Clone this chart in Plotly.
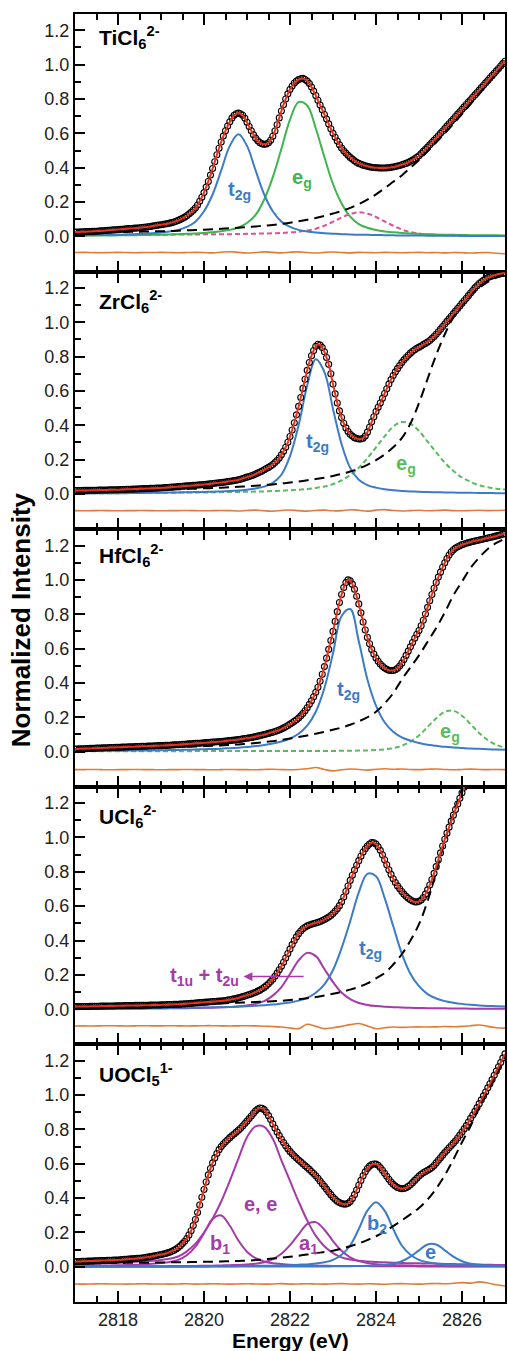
import plotly.graph_objects as go
from plotly.subplots import make_subplots

# ---------------- x grids (eV) ----------------
energy_fine = [round(2817.0 + 0.05 * i, 2) for i in range(201)]  # measured spectrum points
energy_grid = [round(2817.0 + 0.2 * i, 1) for i in range(51)]    # fit components / steps / residuals

# ---------------- TiCl6 2- ----------------
ti_spectrum = [
    0.025,0.0255,0.026,0.0265,0.027,0.0275,0.028,0.0285,0.029,0.0295,0.030,0.031,0.032,0.033,0.034,0.035,0.036,0.037,0.038,0.039,
    0.040,0.041,0.042,0.043,0.044,0.045,0.046,0.047,0.048,0.049,0.050,0.0515,0.053,0.0545,0.056,0.058,0.060,0.062,0.064,0.066,
    0.068,0.070,0.072,0.0745,0.077,0.080,0.084,0.088,0.093,0.099,0.105,0.112,0.120,0.130,0.140,0.152,0.165,0.183,0.205,0.228,
    0.255,0.287,0.320,0.357,0.395,0.435,0.475,0.513,0.550,0.584,0.615,0.643,0.668,0.689,0.705,0.714,0.718,0.714,0.705,0.688,
    0.665,0.640,0.615,0.592,0.572,0.557,0.546,0.539,0.536,0.538,0.545,0.560,0.583,0.614,0.650,0.690,0.730,0.767,0.800,0.830,
    0.855,0.876,0.893,0.905,0.913,0.918,0.920,0.914,0.905,0.890,0.870,0.846,0.820,0.793,0.765,0.738,0.710,0.683,0.655,0.627,
    0.600,0.577,0.555,0.534,0.515,0.499,0.485,0.472,0.460,0.450,0.440,0.432,0.425,0.420,0.415,0.411,0.408,0.405,0.403,0.401,
    0.400,0.399,0.398,0.398,0.398,0.399,0.400,0.402,0.404,0.407,0.410,0.413,0.417,0.421,0.425,0.431,0.437,0.444,0.452,0.461,
    0.470,0.482,0.495,0.507,0.520,0.533,0.547,0.560,0.573,0.586,0.600,0.614,0.628,0.642,0.656,0.670,0.684,0.698,0.712,0.726,
    0.740,0.754,0.768,0.782,0.796,0.810,0.824,0.838,0.852,0.866,0.880,0.894,0.908,0.922,0.936,0.950,0.964,0.978,0.992,1.006,
    1.020]
ti_t2g = [0.006,0.006,0.007,0.008,0.009,0.010,0.011,0.013,0.016,0.019,
          0.023,0.029,0.038,0.055,0.086,0.146,0.244,0.384,0.527,0.595,
          0.527,0.384,0.244,0.146,0.086,0.055,0.038,0.029,0.023,0.019,
          0.016,0.013,0.011,0.010,0.009,0.008,0.007,0.006,0.0055,0.005,
          0.005,0.004,0.004,0.004,0.0035,0.003,0.003,0.003,0.003,0.0025,0.0025]
ti_eg = [0.004,0.004,0.005,0.005,0.005,0.006,0.007,0.007,0.008,0.009,
         0.010,0.011,0.013,0.015,0.017,0.020,0.024,0.030,0.038,0.052,
         0.078,0.125,0.215,0.345,0.510,0.680,0.782,0.762,0.628,0.462,
         0.305,0.192,0.115,0.072,0.050,0.037,0.029,0.024,0.020,0.017,
         0.015,0.013,0.011,0.010,0.009,0.008,0.007,0.007,0.006,0.006,0.005]
ti_extra = [0.008,0.008,0.008,0.009,0.009,0.009,0.009,0.010,0.010,0.010,
            0.010,0.010,0.011,0.011,0.011,0.012,0.012,0.013,0.013,0.014,
            0.015,0.016,0.017,0.018,0.020,0.023,0.027,0.034,0.045,0.062,
            0.085,0.110,0.130,0.140,0.133,0.113,0.087,0.062,0.040,0.025,
            0.016,0.011,0.008,0.006,0.005,0.004,0.003,0.003,0.003,0.002,0.002]
ti_step = [0.020,0.021,0.022,0.023,0.024,0.025,0.026,0.027,0.028,0.029,
           0.030,0.031,0.033,0.035,0.037,0.039,0.041,0.044,0.047,0.050,
           0.054,0.058,0.062,0.067,0.073,0.080,0.088,0.097,0.107,0.119,
           0.133,0.148,0.166,0.188,0.214,0.245,0.280,0.318,0.355,0.400,
           0.445,0.495,0.548,0.600,0.655,0.712,0.770,0.830,0.890,0.950,1.010]
ti_resid = [-0.094,-0.093,-0.094,-0.095,-0.094,-0.093,-0.094,-0.095,-0.094,-0.094,
            -0.093,-0.094,-0.095,-0.094,-0.093,-0.094,-0.096,-0.092,-0.089,-0.093,
            -0.097,-0.094,-0.090,-0.093,-0.096,-0.092,-0.090,-0.094,-0.097,-0.093,
            -0.091,-0.094,-0.096,-0.093,-0.094,-0.095,-0.093,-0.094,-0.095,-0.094,
            -0.093,-0.095,-0.094,-0.096,-0.094,-0.095,-0.097,-0.095,-0.094,-0.098,-0.101]

# ---------------- ZrCl6 2- ----------------
zr_spectrum = [
    0.020,0.020,0.020,0.0205,0.021,0.021,0.021,0.0215,0.022,0.022,0.022,0.0225,0.023,0.023,0.023,0.0235,0.024,0.024,0.024,0.0245,
    0.025,0.0255,0.026,0.0265,0.027,0.0275,0.028,0.0285,0.029,0.0295,0.030,0.0305,0.031,0.0315,0.032,0.0325,0.033,0.0335,0.034,0.0345,
    0.035,0.036,0.037,0.038,0.039,0.040,0.041,0.042,0.043,0.044,0.045,0.046,0.047,0.048,0.049,0.050,0.051,0.052,0.053,0.054,
    0.055,0.0565,0.058,0.0595,0.061,0.0625,0.064,0.0655,0.067,0.0685,0.070,0.072,0.074,0.076,0.078,0.080,0.083,0.086,0.090,0.094,
    0.098,0.102,0.106,0.111,0.116,0.122,0.128,0.134,0.141,0.148,0.155,0.163,0.172,0.183,0.195,0.210,0.228,0.249,0.272,0.301,
    0.335,0.373,0.415,0.461,0.510,0.562,0.615,0.668,0.720,0.766,0.805,0.836,0.860,0.872,0.868,0.853,0.828,0.795,0.755,0.700,
    0.640,0.583,0.530,0.484,0.445,0.412,0.385,0.364,0.348,0.337,0.328,0.323,0.320,0.320,0.325,0.338,0.360,0.389,0.420,0.450,
    0.480,0.505,0.530,0.557,0.585,0.613,0.640,0.666,0.690,0.711,0.730,0.748,0.765,0.781,0.795,0.808,0.820,0.831,0.840,0.848,
    0.855,0.862,0.870,0.877,0.885,0.894,0.905,0.917,0.930,0.945,0.960,0.975,0.990,1.005,1.020,1.035,1.050,1.065,1.080,1.095,
    1.110,1.125,1.140,1.155,1.170,1.185,1.200,1.213,1.225,1.236,1.245,1.253,1.260,1.265,1.270,1.274,1.278,1.281,1.283,1.285,
    1.287]
zr_t2g = [0.003,0.003,0.004,0.004,0.004,0.005,0.005,0.006,0.006,0.007,
          0.007,0.008,0.009,0.010,0.011,0.012,0.013,0.015,0.017,0.020,
          0.025,0.032,0.043,0.065,0.112,0.220,0.400,0.632,0.785,0.711,
          0.495,0.290,0.152,0.083,0.052,0.037,0.028,0.022,0.018,0.015,
          0.013,0.011,0.010,0.009,0.008,0.007,0.007,0.006,0.006,0.005,0.005]
zr_eg = [0.004,0.004,0.004,0.005,0.005,0.005,0.006,0.006,0.006,0.007,
         0.007,0.007,0.008,0.008,0.009,0.009,0.010,0.011,0.011,0.012,
         0.013,0.014,0.015,0.017,0.019,0.022,0.025,0.029,0.035,0.044,
         0.058,0.079,0.111,0.153,0.208,0.272,0.335,0.393,0.419,0.409,
         0.367,0.305,0.242,0.183,0.134,0.096,0.070,0.051,0.039,0.031,0.026]
zr_step = [0.020,0.020,0.021,0.021,0.021,0.022,0.022,0.023,0.023,0.024,
           0.026,0.027,0.028,0.029,0.031,0.033,0.035,0.037,0.039,0.042,
           0.045,0.048,0.052,0.056,0.061,0.067,0.073,0.080,0.087,0.095,
           0.105,0.117,0.131,0.148,0.170,0.197,0.230,0.272,0.325,0.410,
           0.530,0.670,0.810,0.930,1.030,1.100,1.160,1.200,1.235,1.260,1.275]
zr_resid = [-0.097,-0.098,-0.097,-0.096,-0.097,-0.098,-0.097,-0.097,-0.096,-0.097,
            -0.098,-0.097,-0.097,-0.096,-0.097,-0.098,-0.097,-0.096,-0.097,-0.099,
            -0.096,-0.094,-0.098,-0.100,-0.096,-0.093,-0.097,-0.100,-0.096,-0.094,
            -0.098,-0.097,-0.092,-0.095,-0.100,-0.094,-0.091,-0.096,-0.099,-0.097,
            -0.095,-0.098,-0.096,-0.094,-0.097,-0.098,-0.096,-0.095,-0.097,-0.096,-0.095]

# ---------------- HfCl6 2- ----------------
hf_spectrum = [
    0.015,0.0155,0.016,0.0165,0.017,0.0175,0.018,0.0185,0.019,0.0195,0.020,0.0205,0.021,0.0215,0.022,0.0225,0.023,0.0235,0.024,0.0245,
    0.025,0.0255,0.026,0.0265,0.027,0.0275,0.028,0.0285,0.029,0.0295,0.030,0.0305,0.031,0.0315,0.032,0.0325,0.033,0.0335,0.034,0.0345,
    0.035,0.0355,0.036,0.0365,0.037,0.038,0.039,0.0395,0.040,0.041,0.042,0.043,0.044,0.045,0.046,0.047,0.048,0.0485,0.049,0.050,
    0.051,0.052,0.053,0.054,0.055,0.056,0.057,0.058,0.059,0.060,0.061,0.0625,0.064,0.0655,0.067,0.0685,0.070,0.072,0.074,0.076,
    0.078,0.080,0.082,0.0845,0.087,0.090,0.093,0.096,0.099,0.1025,0.106,0.1095,0.113,0.117,0.121,0.126,0.131,0.138,0.145,0.152,
    0.160,0.168,0.176,0.185,0.195,0.208,0.222,0.238,0.255,0.275,0.296,0.319,0.345,0.375,0.410,0.450,0.495,0.544,0.595,0.647,
    0.700,0.758,0.815,0.868,0.915,0.955,0.985,1.000,0.995,0.975,0.945,0.905,0.860,0.808,0.755,0.708,0.665,0.628,0.595,0.568,
    0.545,0.526,0.510,0.497,0.487,0.479,0.474,0.472,0.472,0.477,0.485,0.498,0.515,0.536,0.560,0.585,0.610,0.635,0.660,0.683,
    0.705,0.733,0.765,0.801,0.840,0.878,0.915,0.951,0.985,1.016,1.045,1.073,1.100,1.124,1.145,1.162,1.175,1.185,1.193,1.199,
    1.205,1.209,1.213,1.217,1.220,1.223,1.226,1.229,1.232,1.235,1.238,1.241,1.244,1.247,1.250,1.253,1.256,1.259,1.263,1.266,
    1.270]
hf_t2g = [0.004,0.004,0.004,0.005,0.005,0.005,0.006,0.006,0.007,0.007,
          0.008,0.009,0.010,0.011,0.012,0.014,0.015,0.017,0.020,0.023,
          0.027,0.032,0.038,0.047,0.059,0.076,0.104,0.151,0.232,0.370,
          0.573,0.790,0.830,0.642,0.420,0.268,0.171,0.116,0.083,0.064,
          0.050,0.040,0.034,0.028,0.024,0.021,0.018,0.016,0.014,0.012,0.011]
hf_eg = [0.002,0.002,0.002,0.002,0.002,0.002,0.002,0.002,0.002,0.002,
         0.002,0.002,0.002,0.002,0.003,0.003,0.003,0.003,0.003,0.003,
         0.003,0.003,0.003,0.003,0.003,0.003,0.004,0.004,0.004,0.004,
         0.004,0.0045,0.005,0.006,0.007,0.009,0.013,0.020,0.034,0.058,
         0.094,0.144,0.194,0.232,0.238,0.209,0.160,0.108,0.067,0.039,0.023]
hf_step = [0.015,0.016,0.017,0.018,0.019,0.020,0.021,0.022,0.023,0.024,
           0.025,0.026,0.027,0.028,0.030,0.032,0.034,0.036,0.039,0.042,
           0.046,0.050,0.055,0.061,0.068,0.076,0.085,0.094,0.104,0.115,
           0.127,0.140,0.156,0.176,0.200,0.232,0.280,0.340,0.420,0.490,
           0.560,0.640,0.720,0.810,0.910,0.990,1.070,1.130,1.180,1.215,1.240]
hf_resid = [-0.105,-0.105,-0.104,-0.105,-0.106,-0.105,-0.105,-0.104,-0.105,-0.105,
            -0.106,-0.105,-0.105,-0.104,-0.105,-0.105,-0.106,-0.105,-0.104,-0.105,
            -0.105,-0.106,-0.104,-0.103,-0.105,-0.106,-0.104,-0.100,-0.093,-0.104,
            -0.112,-0.106,-0.101,-0.104,-0.108,-0.103,-0.100,-0.103,-0.101,-0.104,
            -0.105,-0.103,-0.101,-0.104,-0.106,-0.104,-0.102,-0.104,-0.105,-0.104,-0.105]

# ---------------- UCl6 2- ----------------
u_spectrum = [
    0.015,0.015,0.015,0.0155,0.016,0.016,0.016,0.0165,0.017,0.017,0.017,0.0175,0.018,0.018,0.018,0.0185,0.019,0.019,0.019,0.0195,
    0.020,0.020,0.020,0.0205,0.021,0.021,0.021,0.0215,0.022,0.022,0.022,0.0225,0.023,0.023,0.023,0.0235,0.024,0.024,0.024,0.0245,
    0.025,0.0255,0.026,0.0265,0.027,0.0275,0.028,0.0285,0.029,0.0295,0.030,0.031,0.032,0.033,0.034,0.035,0.036,0.037,0.038,0.039,
    0.040,0.041,0.042,0.043,0.044,0.045,0.046,0.047,0.048,0.0495,0.051,0.053,0.055,0.0575,0.060,0.063,0.066,0.0695,0.073,0.077,
    0.081,0.085,0.089,0.094,0.099,0.105,0.111,0.119,0.127,0.137,0.148,0.161,0.175,0.192,0.210,0.230,0.250,0.273,0.298,0.324,
    0.350,0.376,0.400,0.421,0.440,0.455,0.468,0.477,0.485,0.490,0.495,0.499,0.502,0.506,0.510,0.516,0.522,0.529,0.537,0.546,
    0.557,0.570,0.585,0.603,0.625,0.653,0.685,0.717,0.750,0.780,0.810,0.838,0.865,0.891,0.915,0.934,0.950,0.962,0.970,0.969,
    0.962,0.946,0.925,0.899,0.870,0.841,0.812,0.785,0.760,0.738,0.718,0.701,0.685,0.670,0.657,0.646,0.637,0.630,0.625,0.624,
    0.628,0.636,0.650,0.670,0.695,0.723,0.755,0.791,0.830,0.870,0.910,0.950,0.990,1.025,1.060,1.095,1.130,1.163,1.195,1.228,
    1.260,1.293,1.325,1.358,1.390,1.423,1.455,1.488,1.520,1.553,1.585,1.618,1.650,1.683,1.715,1.748,1.780,1.813,1.845,1.878,
    1.910]
u_t1u_t2u = [0.002,0.002,0.002,0.002,0.002,0.003,0.003,0.003,0.003,0.004,
             0.004,0.005,0.005,0.006,0.007,0.008,0.009,0.011,0.013,0.016,
             0.022,0.031,0.047,0.079,0.129,0.205,0.284,0.328,0.309,0.234,
             0.158,0.097,0.058,0.036,0.025,0.018,0.014,0.012,0.010,0.008,
             0.007,0.006,0.005,0.005,0.004,0.004,0.003,0.003,0.003,0.003,0.002]
u_t2g = [0.004,0.004,0.004,0.004,0.005,0.005,0.005,0.0055,0.006,0.0065,
         0.007,0.0075,0.008,0.0085,0.009,0.010,0.011,0.012,0.0135,0.015,
         0.0175,0.020,0.023,0.027,0.033,0.039,0.050,0.066,0.096,0.145,
         0.228,0.356,0.512,0.680,0.788,0.774,0.648,0.484,0.324,0.207,
         0.134,0.088,0.062,0.047,0.038,0.031,0.026,0.022,0.019,0.017,0.015]
u_step = [0.015,0.016,0.017,0.018,0.019,0.020,0.021,0.022,0.023,0.024,
          0.025,0.026,0.027,0.028,0.029,0.030,0.032,0.034,0.036,0.038,
          0.040,0.042,0.044,0.046,0.049,0.053,0.058,0.064,0.071,0.080,
          0.090,0.101,0.114,0.130,0.150,0.180,0.210,0.260,0.320,0.400,
          0.495,0.630,0.800,0.980,1.140,1.280,1.430,1.580,1.730,1.880,2.030]
u_resid = [-0.098,-0.097,-0.098,-0.097,-0.096,-0.097,-0.098,-0.097,-0.096,-0.097,
           -0.097,-0.096,-0.097,-0.098,-0.097,-0.096,-0.096,-0.097,-0.098,-0.097,
           -0.096,-0.097,-0.099,-0.101,-0.104,-0.110,-0.113,-0.088,-0.100,-0.113,
           -0.108,-0.100,-0.090,-0.083,-0.098,-0.114,-0.108,-0.104,-0.106,-0.104,
           -0.103,-0.104,-0.103,-0.101,-0.102,-0.100,-0.096,-0.092,-0.100,-0.108,-0.110]

# ---------------- UOCl5 1- ----------------
uo_spectrum = [
    0.030,0.0305,0.031,0.0315,0.032,0.0325,0.033,0.0335,0.034,0.0345,0.035,0.0355,0.036,0.0365,0.037,0.0375,0.038,0.0385,0.039,0.0395,
    0.040,0.041,0.042,0.043,0.044,0.045,0.046,0.047,0.048,0.049,0.050,0.0515,0.053,0.055,0.057,0.059,0.061,0.0635,0.066,0.0685,
    0.071,0.074,0.077,0.081,0.085,0.090,0.096,0.103,0.112,0.122,0.135,0.149,0.165,0.185,0.210,0.240,0.275,0.316,0.360,0.405,
    0.450,0.494,0.535,0.572,0.605,0.634,0.660,0.682,0.700,0.715,0.728,0.740,0.752,0.763,0.773,0.784,0.795,0.807,0.820,0.834,
    0.848,0.863,0.878,0.894,0.908,0.919,0.925,0.923,0.915,0.900,0.880,0.857,0.832,0.808,0.785,0.764,0.743,0.724,0.705,0.688,
    0.672,0.658,0.645,0.633,0.622,0.611,0.600,0.589,0.578,0.567,0.555,0.543,0.530,0.516,0.500,0.484,0.468,0.452,0.435,0.420,
    0.405,0.393,0.382,0.374,0.368,0.365,0.365,0.370,0.380,0.398,0.420,0.447,0.475,0.503,0.530,0.553,0.572,0.586,0.596,0.599,
    0.598,0.591,0.578,0.562,0.545,0.527,0.510,0.494,0.480,0.470,0.462,0.457,0.455,0.456,0.460,0.468,0.478,0.490,0.503,0.516,
    0.528,0.539,0.548,0.555,0.562,0.569,0.578,0.590,0.605,0.620,0.635,0.650,0.665,0.679,0.693,0.706,0.720,0.734,0.750,0.767,
    0.785,0.803,0.822,0.843,0.864,0.884,0.905,0.927,0.950,0.972,0.995,1.018,1.042,1.066,1.090,1.115,1.140,1.165,1.190,1.215,
    1.240]
uo_b1 = [0.005,0.006,0.006,0.007,0.008,0.009,0.010,0.012,0.015,0.018,
         0.022,0.028,0.040,0.067,0.117,0.196,0.278,0.299,0.239,0.153,
         0.088,0.050,0.031,0.021,0.016,0.012,0.010,0.008,0.007,0.006,
         0.005,0.005,0.004,0.004,0.004,0.003,0.003,0.003,0.003,0.003,
         0.002,0.002,0.002,0.002,0.002,0.002,0.002,0.002,0.002,0.002,0.002]
uo_ee = [0.015,0.016,0.018,0.020,0.022,0.024,0.026,0.029,0.032,0.035,
         0.040,0.047,0.060,0.090,0.135,0.200,0.280,0.380,0.500,0.630,
         0.755,0.818,0.815,0.745,0.620,0.500,0.380,0.270,0.180,0.120,
         0.080,0.055,0.042,0.035,0.031,0.028,0.026,0.024,0.022,0.021,
         0.020,0.019,0.018,0.017,0.016,0.015,0.014,0.013,0.012,0.011,0.011]
uo_a1 = [0.002,0.002,0.002,0.002,0.002,0.002,0.003,0.003,0.003,0.003,
         0.003,0.004,0.004,0.004,0.005,0.006,0.0065,0.008,0.009,0.011,
         0.014,0.018,0.027,0.045,0.076,0.126,0.189,0.249,0.260,0.216,
         0.150,0.093,0.055,0.033,0.022,0.015,0.012,0.010,0.0085,0.007,
         0.006,0.005,0.0046,0.004,0.0037,0.0034,0.003,0.003,0.0028,0.0026,0.0025]
uo_b2 = [0.001,0.001,0.001,0.0013,0.0013,0.0014,0.0015,0.0016,0.0017,0.0018,
         0.0019,0.002,0.0022,0.0024,0.0026,0.0028,0.003,0.0033,0.0037,0.0041,
         0.0046,0.0052,0.0059,0.0068,0.0079,0.0094,0.012,0.014,0.019,0.026,
         0.040,0.070,0.124,0.220,0.327,0.376,0.327,0.220,0.124,0.070,
         0.040,0.026,0.019,0.014,0.012,0.0094,0.0079,0.0068,0.0059,0.0052,0.0046]
uo_e = [0.0005,0.0005,0.0005,0.0005,0.0006,0.0006,0.0006,0.0006,0.0007,0.0007,
        0.0007,0.0008,0.0008,0.0008,0.0009,0.0009,0.001,0.001,0.0011,0.0011,
        0.0012,0.0012,0.0013,0.0014,0.0015,0.0016,0.0017,0.0017,0.0019,0.0022,
        0.0026,0.0031,0.0037,0.0045,0.0057,0.0076,0.011,0.018,0.032,0.059,
        0.096,0.130,0.130,0.096,0.059,0.032,0.018,0.011,0.0076,0.0057,0.0045]
uo_step = [0.020,0.020,0.021,0.021,0.022,0.022,0.023,0.023,0.024,0.024,
           0.025,0.026,0.026,0.027,0.028,0.029,0.030,0.031,0.033,0.034,
           0.036,0.039,0.043,0.048,0.053,0.058,0.064,0.071,0.079,0.086,
           0.094,0.106,0.120,0.136,0.156,0.178,0.205,0.237,0.270,0.305,
           0.343,0.392,0.455,0.533,0.625,0.725,0.820,0.930,1.025,1.120,1.220]
uo_resid = [-0.100,-0.101,-0.100,-0.099,-0.100,-0.100,-0.101,-0.100,-0.099,-0.100,
            -0.100,-0.101,-0.100,-0.099,-0.101,-0.100,-0.099,-0.100,-0.101,-0.100,
            -0.099,-0.100,-0.101,-0.100,-0.098,-0.101,-0.100,-0.099,-0.100,-0.101,
            -0.099,-0.098,-0.100,-0.101,-0.099,-0.100,-0.102,-0.099,-0.098,-0.100,
            -0.101,-0.099,-0.097,-0.099,-0.096,-0.092,-0.095,-0.088,-0.094,-0.105,-0.112]

# ---------------- axis ticks / labels ----------------
ytick_vals = [0.0, 0.2, 0.4, 0.6, 0.8, 1.0, 1.2]
ytick_text = ["0.0", "0.2", "0.4", "0.6", "0.8", "1.0", "1.2"]
yminor_vals = [0.1, 0.3, 0.5, 0.7, 0.9, 1.1]
xtick_vals = [2818, 2820, 2822, 2824, 2826]
xtick_text = ["2818", "2820", "2822", "2824", "2826"]
xminor_vals = [2817.5, 2818.5, 2819.0, 2819.5, 2820.5, 2821.0, 2821.5, 2822.5,
               2823.0, 2823.5, 2824.5, 2825.0, 2825.5, 2826.5]

panel_names = ["TiCl<sub>6</sub><sup>2-</sup>", "ZrCl<sub>6</sub><sup>2-</sup>",
               "HfCl<sub>6</sub><sup>2-</sup>", "UCl<sub>6</sub><sup>2-</sup>",
               "UOCl<sub>5</sub><sup>1-</sup>"]
panel_name_y = [1.16, 1.12, 1.14, 1.12, 1.12]

BLUE = "#3b7bc8"
GREEN = "#3fb54d"
GREEN_DASH = "#57bd5b"
MAGENTA = "#a53aa8"
PINK = "#e0509a"
RED = "#e8321e"
ORANGE = "#e27b35"
FONT = "Liberation Sans, Arial, Helvetica, sans-serif"

for arr in [ti_t2g, ti_eg, ti_extra, ti_step, ti_resid, zr_t2g, zr_eg, zr_step, zr_resid,
            hf_t2g, hf_eg, hf_step, hf_resid, u_t1u_t2u, u_t2g, u_step, u_resid,
            uo_b1, uo_ee, uo_a1, uo_b2, uo_e, uo_step, uo_resid]:
    assert len(arr) == len(energy_grid), len(arr)
for arr in [ti_spectrum, zr_spectrum, hf_spectrum, u_spectrum, uo_spectrum]:
    assert len(arr) == len(energy_fine), len(arr)

fig = make_subplots(rows=5, cols=1, shared_xaxes=True, vertical_spacing=0)


def add_panel(row, spectrum, components, step, resid):
    fig.add_trace(go.Scatter(x=energy_grid, y=resid, mode="lines",
                             line=dict(color=ORANGE, width=1.6, shape="spline"),
                             hoverinfo="skip"), row=row, col=1)
    for vals, color, dash in components:
        fig.add_trace(go.Scatter(x=energy_grid, y=vals, mode="lines",
                                 line=dict(color=color, width=2, dash=dash, shape="spline"),
                                 hoverinfo="skip"), row=row, col=1)
    fig.add_trace(go.Scatter(x=energy_grid, y=step, mode="lines",
                             line=dict(color="black", width=2, dash="10px,6px", shape="spline"),
                             hoverinfo="skip"), row=row, col=1)
    fig.add_trace(go.Scatter(x=energy_fine, y=spectrum, mode="markers",
                             marker=dict(symbol="circle-open", size=6, color="black",
                                         line=dict(width=1.1, color="black")),
                             hoverinfo="skip"), row=row, col=1)
    fig.add_trace(go.Scatter(x=energy_fine, y=spectrum, mode="lines",
                             line=dict(color=RED, width=2, shape="spline"),
                             hoverinfo="skip"), row=row, col=1)


add_panel(1, ti_spectrum, [(ti_extra, PINK, "5px,3px"), (ti_eg, GREEN, "solid"),
                           (ti_t2g, BLUE, "solid")], ti_step, ti_resid)
add_panel(2, zr_spectrum, [(zr_eg, GREEN_DASH, "5px,3px"), (zr_t2g, BLUE, "solid")],
          zr_step, zr_resid)
add_panel(3, hf_spectrum, [(hf_eg, GREEN_DASH, "5px,3px"), (hf_t2g, BLUE, "solid")],
          hf_step, hf_resid)
add_panel(4, u_spectrum, [(u_t1u_t2u, MAGENTA, "solid"), (u_t2g, BLUE, "solid")],
          u_step, u_resid)
add_panel(5, uo_spectrum, [(uo_b1, MAGENTA, "solid"), (uo_ee, MAGENTA, "solid"),
                           (uo_a1, MAGENTA, "solid"), (uo_b2, BLUE, "solid"),
                           (uo_e, BLUE, "solid")], uo_step, uo_resid)

for r in range(1, 6):
    fig.update_yaxes(row=r, col=1, range=[-0.205, 1.295], tickmode="array",
                     tickvals=ytick_vals, ticktext=ytick_text, ticks="inside",
                     ticklen=10, tickwidth=1.5, tickcolor="black",
                     minor=dict(tickmode="array", tickvals=yminor_vals, ticks="inside",
                                ticklen=6, tickwidth=1.5, tickcolor="black"),
                     showline=True, linecolor="black", linewidth=2, mirror=True,
                     showgrid=False, zeroline=False,
                     tickfont=dict(family=FONT, size=18, color="#222222"))
    fig.update_xaxes(row=r, col=1, range=[2817, 2827], tickmode="array",
                     tickvals=xtick_vals, ticktext=xtick_text, ticks="inside",
                     ticklen=11, tickwidth=1.5, tickcolor="black",
                     minor=dict(tickmode="array", tickvals=xminor_vals, ticks="inside",
                                ticklen=6, tickwidth=1.5, tickcolor="black"),
                     showline=True, linecolor="black", linewidth=2, mirror="allticks",
                     showgrid=False, zeroline=False,
                     tickfont=dict(family=FONT, size=18, color="#222222"))

# panel titles
for r, (name, ny) in enumerate(zip(panel_names, panel_name_y), start=1):
    fig.add_annotation(row=r, col=1, x=2817.52, y=ny, text="<b>" + name + "</b>",
                       showarrow=False, xanchor="left", yanchor="middle",
                       font=dict(family=FONT, size=21, color="black"))

# component labels
labels = [
    (1, 2820.82, 0.27, "t<sub>2g</sub>", BLUE),
    (1, 2822.27, 0.34, "e<sub>g</sub>", GREEN),
    (2, 2822.65, 0.30, "t<sub>2g</sub>", BLUE),
    (2, 2824.69, 0.17, "e<sub>g</sub>", GREEN_DASH),
    (3, 2823.35, 0.357, "t<sub>2g</sub>", BLUE),
    (3, 2825.73, 0.113, "e<sub>g</sub>", GREEN_DASH),
    (4, 2823.88, 0.35, "t<sub>2g</sub>", BLUE),
    (5, 2820.38, 0.13, "b<sub>1</sub>", MAGENTA),
    (5, 2821.31, 0.366, "e, e", MAGENTA),
    (5, 2822.42, 0.13, "a<sub>1</sub>", MAGENTA),
    (5, 2824.02, 0.245, "b<sub>2</sub>", BLUE),
    (5, 2825.27, 0.084, "e", BLUE),
]
for r, x, y, txt, col in labels:
    fig.add_annotation(row=r, col=1, x=x, y=y, text="<b>" + txt + "</b>", showarrow=False,
                       xanchor="center", yanchor="middle",
                       font=dict(family=FONT, size=20, color=col))

fig.add_annotation(row=4, col=1, x=2820.85, y=0.19,
                   text="<b>t<sub>1u</sub> + t<sub>2u</sub></b>", showarrow=False,
                   xanchor="right", yanchor="middle",
                   font=dict(family=FONT, size=20, color=MAGENTA))
fig.add_annotation(row=4, col=1, x=2820.92, y=0.19, ax=2822.35, ay=0.19,
                   axref="x4", ayref="y4", text="", showarrow=True, arrowhead=2,
                   arrowsize=1.1, arrowwidth=1.6, arrowcolor=MAGENTA)

# axis titles
fig.add_annotation(xref="paper", yref="paper", x=-0.125, y=0.5295,
                   text="<b>Normalized Intensity</b>", textangle=-90, showarrow=False,
                   xanchor="center", yanchor="middle",
                   font=dict(family=FONT, size=26, color="black"))
fig.add_annotation(xref="paper", yref="paper", x=0.5, y=-0.0298,
                   text="<b>Energy (eV)</b>", showarrow=False,
                   xanchor="center", yanchor="middle",
                   font=dict(family=FONT, size=21, color="black"))

fig.update_layout(width=508, height=1351, margin=dict(l=75, r=1, t=14, b=49),
                  showlegend=False, plot_bgcolor="white", paper_bgcolor="white",
                  font=dict(family=FONT))

fig.write_html("out.html", config={"displayModeBar": False},
               post_script="document.body.style.margin='0px';document.body.style.overflow='hidden';")
